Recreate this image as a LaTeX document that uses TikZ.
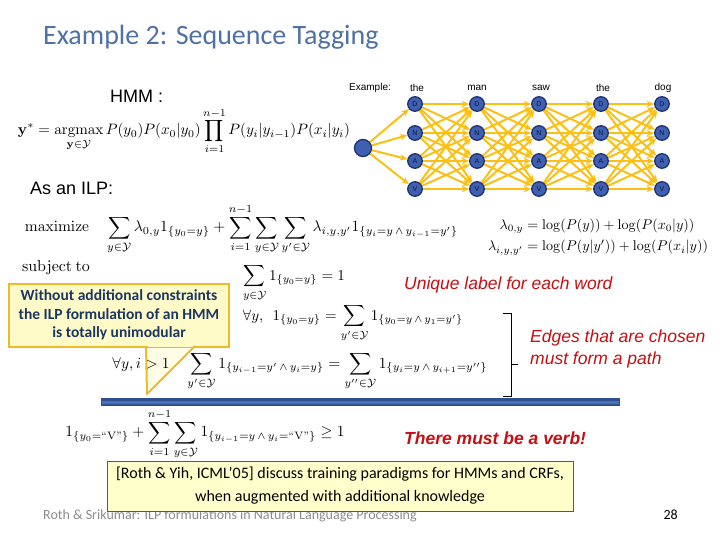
\documentclass[tikz,border=0pt]{standalone}
\usepackage{amsmath,amssymb}
\usepackage{graphicx}
\usepackage[no-math]{fontspec}
\setmainfont{Carlito}
\newfontfamily\arial{Liberation Sans}
\usetikzlibrary{arrows.meta}
\pgfdeclarelayer{bg}
\pgfsetlayers{bg,main}
\definecolor{titleblue}{RGB}{79,113,167}
\definecolor{nodeblue}{RGB}{62,96,176}
\definecolor{nodeborder}{RGB}{32,50,115}
\definecolor{navy}{RGB}{15,22,60}
\definecolor{gold}{RGB}{252,192,20}
\definecolor{callgold}{RGB}{238,186,40}
\definecolor{callfill}{RGB}{255,251,200}
\definecolor{callnavy}{RGB}{28,54,98}
\definecolor{notefill}{RGB}{255,255,204}
\definecolor{noteborder}{RGB}{90,90,70}
\definecolor{redtxt}{RGB}{196,16,20}
\definecolor{bardark}{RGB}{45,80,145}
\definecolor{barlight}{RGB}{72,112,182}
\definecolor{footgrey}{RGB}{140,140,140}
\newcommand{\lmtext}[1]{\text{\fontfamily{lmr}\selectfont #1}}
\tikzset{
  tnode/.style={circle, fill=nodeblue, draw=nodeborder, line width=1.3pt, minimum size=14.5pt, inner sep=0pt, text=navy, font=\arial\fontsize{7}{7}\selectfont},
  tedge/.style={draw=gold, line width=2pt, -{Stealth[length=7.5pt,width=6.5pt]}},
  fml/.style={inner sep=0pt},
  wordlbl/.style={font=\arial\fontsize{10}{12}\selectfont, inner sep=0pt},
  bigarial/.style={font=\arial\fontsize{18}{21}\selectfont, inner sep=0pt},
  rednote/.style={font=\arial\itshape\fontsize{17.5}{22}\selectfont, text=redtxt, inner sep=0pt, align=left},
}
\begin{document}
\begin{tikzpicture}[x=1pt,y=-1pt]
\useasboundingbox (0,0) rectangle (720,540);
\begin{pgfonlayer}{bg}
\fill[white] (0,0) rectangle (720,540);
\end{pgfonlayer}

% title
\node[anchor=west, inner sep=0pt, text=titleblue, font=\fontsize{28}{32}\selectfont] (title) at (43,37) {Example 2: Sequence Tagging};

\node[bigarial, anchor=west] (hmm) at (110,96) {HMM :};
\node[fml] (hmmf) at (184,131) {\resizebox{332pt}{!}{$\displaystyle \mathbf{y}^* = \operatorname*{argmax}_{\mathbf{y}\in\mathcal{Y}} P(y_0)P(x_0|y_0)\prod_{i=1}^{n-1}P(y_i|y_{i-1})P(x_i|y_i)$}};

% trellis
\node[wordlbl] (ex) at (370,88) {Example:};
\node[wordlbl] (w1) at (417,88) {the};
\node[wordlbl] (w2) at (477,88) {man};
\node[wordlbl] (w3) at (541,88) {saw};
\node[wordlbl] (w4) at (603,88) {the};
\node[wordlbl] (w5) at (663,88) {dog};

\node[circle, fill=nodeblue, draw=nodeborder, line width=1.3pt, minimum size=17pt, inner sep=0pt] (s0) at (363,148) {};
\foreach \c/\x in {1/415,2/477,3/539,4/601,5/662}{
  \foreach \r/\y/\l in {1/104/D,2/133/N,3/161/A,4/189/V}{
    \node[tnode] (n\c-\r) at (\x,\y) {\l};
  }
}
\begin{pgfonlayer}{bg}
\foreach \r in {1,...,4}{ \draw[tedge] (s0) -- (n1-\r); }
\foreach \c [evaluate=\c as \d using int(\c+1)] in {1,...,4}{
  \foreach \r in {1,...,4}{
    \foreach \s in {1,...,4}{
      \draw[tedge] (n\c-\r) -- (n\d-\s);
    }
  }
}
\end{pgfonlayer}

% ILP
\node[bigarial, anchor=west] (asilp) at (30,188) {As an ILP:};
\node[fml] (maxf) at (241.5,229) {\resizebox{433pt}{!}{$\displaystyle \mathrm{maximize}\quad \sum_{y\in\mathcal{Y}}\lambda_{0,y}1_{\{y_0=y\}}+\sum_{i=1}^{n-1}\sum_{y\in\mathcal{Y}}\sum_{y'\in\mathcal{Y}}\lambda_{i,y,y'}1_{\{y_i=y\,\wedge\,y_{i-1}=y'\}}$}};
\node[fml] (lam) at (598,237) {\resizebox{220pt}{!}{$\begin{aligned}\lambda_{0,y}&=\log(P(y))+\log(P(x_0|y))\\ \lambda_{i,y,y'}&=\log(P(y|y'))+\log(P(x_i|y))\end{aligned}$}};
\node[fml] (subj) at (56,268) {\resizebox{68pt}{!}{$\mathrm{subject\ to}$}};

% callout
\coordinate (tip) at (147,394);
\fill[callfill, fill opacity=0.45] (146,346) -- (tip) -- (195,346) -- cycle;
\node[draw=callgold, fill=callfill, line width=2pt, minimum width=220pt, minimum height=63pt, inner sep=2pt, align=center, text=callnavy, font=\bfseries\fontsize{15.5}{18.5}\selectfont] (call) at (119,315) {Without additional constraints\\the ILP formulation of an HMM\\is totally unimodular};
\draw[callfill, line width=2.2pt] (148,346) -- (193,346);
\draw[callgold, line width=2pt, line join=round] (146,346) -- (tip) -- (195,346);

% constraints
\node[fml] (c1) at (294,283) {\resizebox{102pt}{!}{$\displaystyle \sum_{y\in\mathcal{Y}}1_{\{y_0=y\}}=1$}};
\node[fml] (c2) at (353,323) {\resizebox{220pt}{!}{$\displaystyle \forall y,\ \ 1_{\{y_0=y\}}=\sum_{y'\in\mathcal{Y}}1_{\{y_0=y\,\wedge\,y_1=y'\}}$}};
\node[fml] (c3) at (300,371) {\resizebox{375pt}{!}{$\displaystyle \forall y, i>1\quad \sum_{y'\in\mathcal{Y}}1_{\{y_{i-1}=y'\,\wedge\,y_i=y\}}=\sum_{y''\in\mathcal{Y}}1_{\{y_i=y\,\wedge\,y_{i+1}=y''\}}$}};

\node[rednote, anchor=west] (uniq) at (404,285) {Unique label for each word};
\draw[line width=0.9pt] (503,313) -- (511,313) -- (511,396) -- (503,396);
\draw[line width=0.9pt] (511,364) -- (518,364);
\node[rednote, anchor=west] (edges) at (530,349) {Edges that are chosen\\must form a path};

% blue bar
\draw[bardark, line width=8pt] (101,402) -- (620,402);
\draw[barlight, line width=3pt] (102,402) -- (619,402);

% verb constraint
\node[fml] (c4) at (205,434) {\resizebox{279pt}{!}{$\displaystyle 1_{\{y_0=\lmtext{``V''}\}}+\sum_{i=1}^{n-1}\sum_{y\in\mathcal{Y}}1_{\{y_{i-1}=y\,\wedge\,y_i=\lmtext{``V''}\}}\geq 1$}};
\node[rednote, anchor=west, font=\arial\bfseries\itshape\fontsize{17.5}{22}\selectfont] (verb) at (404,438) {There must be a verb!};

% footer
\node[anchor=west, inner sep=0pt, text=footgrey, font=\fontsize{14}{16}\selectfont] (foot) at (43,516) {Roth \& Srikumar: ILP formulations in Natural Language Processing};
\node[anchor=east, inner sep=0pt, font=\fontsize{14}{16}\selectfont] (pg) at (678,515) {28};

% note box
\node[draw=noteborder, fill=notefill, line width=0.8pt, minimum width=466pt, minimum height=50pt, inner sep=2pt, align=center, font=\fontsize{16}{23}\selectfont] (note) at (340,486) {[Roth \& Yih, ICML’05] discuss training paradigms for HMMs and CRFs,\\when augmented with additional knowledge};
\end{tikzpicture}
\end{document}
